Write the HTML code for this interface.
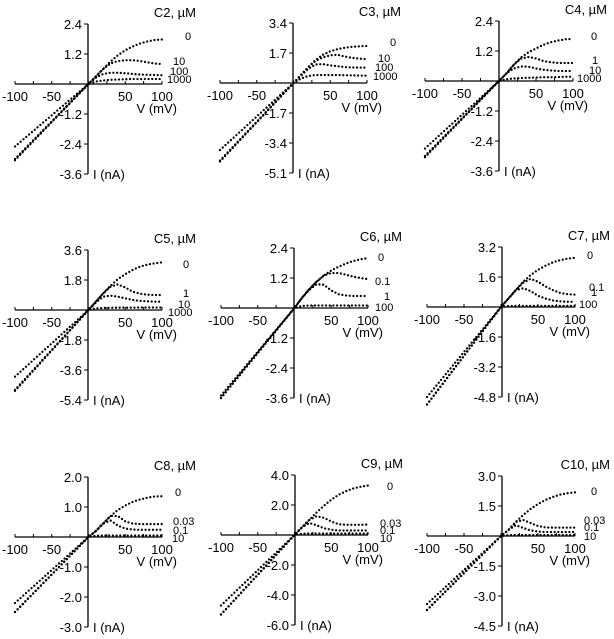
<!DOCTYPE html>
<html><head><meta charset="utf-8">
<style>
html,body{margin:0;padding:0;background:#fff;}
svg{display:block;font-family:"Liberation Sans",Arial,sans-serif;}
</style></head>
<body>
<svg id="chart" width="614" height="639" viewBox="0 0 614 639" xmlns="http://www.w3.org/2000/svg"></svg>
<script>
// Voltage categories (mV)
const voltages = [-100,-90,-80,-70,-60,-50,-40,-30,-20,-10,0,10,20,30,40,50,60,70,80,90,100];

// Panel titles and y tick labels
const titles = ["C2, µM","C3, µM","C4, µM","C5, µM","C6, µM","C7, µM","C8, µM","C9, µM","C10, µM"];
const yTickLabels = [
  ["2.4","1.2","-1.2","-2.4","-3.6"],
  ["3.4","1.7","-1.7","-3.4","-5.1"],
  ["2.4","1.2","-1.2","-2.4","-3.6"],
  ["3.6","1.8","-1.8","-3.6","-5.4"],
  ["2.4","1.2","-1.2","-2.4","-3.6"],
  ["3.2","1.6","-1.6","-3.2","-4.8"],
  ["2.0","1.0","-1.0","-2.0","-3.0"],
  ["4.0","2.0","-2.0","-4.0","-6.0"],
  ["3.0","1.5","-1.5","-3.0","-4.5"]
];
const yStep = [1.2,1.7,1.2,1.8,1.2,1.6,1.0,2.0,1.5];
const xTickLabels = ["-100","-50","50","100"];
const xTickValues = [-100,-50,50,100];
const seriesLabels = [
  ["0","10","100","1000"],
  ["0","10","100","1000"],
  ["0","1","10","1000"],
  ["0","1","10","1000"],
  ["0","0.1","1","100"],
  ["0","0.1","1","100"],
  ["0","0.03","0.1","10"],
  ["0","0.03","0.1","10"],
  ["0","0.03","0.1","10"]
];

// Current values (nA) per panel, per concentration
const c2_0    = [-2.5,-2.25,-2,-1.75,-1.5,-1.25,-1,-0.75,-0.5,-0.25,0,0.3,0.6,0.9,1.15,1.35,1.5,1.62,1.7,1.76,1.78];
const c2_10   = [-3,-2.7,-2.4,-2.1,-1.8,-1.5,-1.2,-0.9,-0.6,-0.3,0,0.3,0.6,0.82,0.92,0.95,0.95,0.92,0.87,0.82,0.8];
const c2_100  = [-3,-2.7,-2.4,-2.1,-1.8,-1.5,-1.2,-0.9,-0.6,-0.3,0,0.25,0.4,0.45,0.45,0.43,0.4,0.38,0.37,0.36,0.35];
const c2_1000 = [-3.05,-2.74,-2.44,-2.13,-1.83,-1.52,-1.22,-0.91,-0.61,-0.3,0,0.1,0.14,0.17,0.18,0.19,0.2,0.2,0.2,0.2,0.2];

const c3_0    = [-3.8,-3.42,-3.04,-2.66,-2.28,-1.9,-1.52,-1.14,-0.76,-0.38,0,0.45,0.9,1.3,1.6,1.8,1.92,2,2.05,2.08,2.1];
const c3_10   = [-4.4,-3.96,-3.52,-3.08,-2.64,-2.2,-1.76,-1.32,-0.88,-0.44,0,0.45,0.9,1.25,1.45,1.57,1.6,1.5,1.42,1.38,1.35];
const c3_100  = [-4.4,-3.96,-3.52,-3.08,-2.64,-2.2,-1.76,-1.32,-0.88,-0.44,0,0.4,0.8,1.05,1.07,1,0.95,0.9,0.88,0.87,0.87];
const c3_1000 = [-4.45,-4,-3.56,-3.11,-2.67,-2.22,-1.78,-1.33,-0.89,-0.44,0,0.25,0.4,0.45,0.45,0.45,0.45,0.44,0.43,0.42,0.42];

const c4_0    = [-2.7,-2.43,-2.16,-1.89,-1.62,-1.35,-1.08,-0.81,-0.54,-0.27,0,0.3,0.65,0.95,1.15,1.3,1.45,1.55,1.62,1.67,1.68];
const c4_1    = [-3,-2.7,-2.4,-2.1,-1.8,-1.5,-1.2,-0.9,-0.6,-0.3,0,0.3,0.65,0.9,0.96,0.9,0.8,0.75,0.72,0.72,0.72];
const c4_10   = [-3,-2.7,-2.4,-2.1,-1.8,-1.5,-1.2,-0.9,-0.6,-0.3,0,0.3,0.5,0.58,0.57,0.5,0.45,0.42,0.4,0.4,0.4];
const c4_1000 = [-3.05,-2.74,-2.44,-2.13,-1.83,-1.52,-1.22,-0.91,-0.61,-0.3,0,0.07,0.1,0.12,0.13,0.14,0.15,0.15,0.16,0.17,0.17];

const c5_0    = [-4,-3.6,-3.2,-2.8,-2.4,-2,-1.6,-1.2,-0.8,-0.4,0,0.5,1,1.45,1.85,2.15,2.4,2.6,2.72,2.8,2.86];
const c5_1    = [-4.8,-4.32,-3.84,-3.36,-2.88,-2.4,-1.92,-1.44,-0.96,-0.48,0,0.5,1,1.4,1.54,1.35,1.1,0.98,0.92,0.9,0.9];
const c5_10   = [-4.8,-4.32,-3.84,-3.36,-2.88,-2.4,-1.92,-1.44,-0.96,-0.48,0,0.45,0.8,0.86,0.8,0.7,0.6,0.55,0.52,0.5,0.5];
const c5_1000 = [-4.85,-4.37,-3.88,-3.4,-2.91,-2.43,-1.94,-1.46,-0.97,-0.49,0,0.1,0.12,0.13,0.14,0.14,0.14,0.15,0.15,0.15,0.15];

const c6_0    = [-3.5,-3.15,-2.8,-2.45,-2.1,-1.75,-1.4,-1.05,-0.7,-0.35,0,0.4,0.75,1.05,1.3,1.5,1.65,1.78,1.88,1.95,2];
const c6_01   = [-3.6,-3.24,-2.88,-2.52,-2.16,-1.8,-1.44,-1.08,-0.72,-0.36,0,0.4,0.75,1.05,1.3,1.4,1.4,1.33,1.25,1.2,1.15];
const c6_1    = [-3.6,-3.24,-2.88,-2.52,-2.16,-1.8,-1.44,-1.08,-0.72,-0.36,0,0.4,0.72,0.95,0.93,0.7,0.55,0.5,0.48,0.48,0.48];
const c6_100  = [-3.6,-3.24,-2.88,-2.52,-2.16,-1.8,-1.44,-1.08,-0.72,-0.36,0,0.08,0.1,0.1,0.1,0.1,0.1,0.1,0.1,0.1,0.1];

const c7_0    = [-4.8,-4.32,-3.84,-3.36,-2.88,-2.4,-1.92,-1.44,-0.96,-0.48,0,0.45,0.9,1.35,1.7,1.98,2.2,2.38,2.5,2.58,2.62];
const c7_01   = [-5.2,-4.68,-4.16,-3.64,-3.12,-2.6,-2.08,-1.56,-1.04,-0.52,0,0.45,0.9,1.3,1.5,1.35,1.1,0.9,0.75,0.68,0.66];
const c7_1    = [-5.2,-4.68,-4.16,-3.64,-3.12,-2.6,-2.08,-1.56,-1.04,-0.52,0,0.45,0.9,1,0.85,0.6,0.45,0.35,0.3,0.28,0.28];
const c7_100  = [-5.2,-4.68,-4.16,-3.64,-3.12,-2.6,-2.08,-1.56,-1.04,-0.52,0,0.05,0.06,0.06,0.06,0.06,0.06,0.06,0.06,0.06,0.06];

const c8_0    = [-2.2,-1.98,-1.76,-1.54,-1.32,-1.1,-0.88,-0.66,-0.44,-0.22,0,0.2,0.45,0.7,0.9,1.05,1.17,1.25,1.31,1.35,1.36];
const c8_003  = [-2.5,-2.25,-2,-1.75,-1.5,-1.25,-1,-0.75,-0.5,-0.25,0,0.2,0.45,0.7,0.7,0.52,0.45,0.43,0.43,0.43,0.43];
const c8_01   = [-2.5,-2.25,-2,-1.75,-1.5,-1.25,-1,-0.75,-0.5,-0.25,0,0.2,0.45,0.55,0.38,0.28,0.25,0.24,0.24,0.24,0.24];
const c8_10   = [-2.5,-2.25,-2,-1.75,-1.5,-1.25,-1,-0.75,-0.5,-0.25,0,0.04,0.05,0.05,0.05,0.05,0.05,0.05,0.05,0.05,0.05];

const c9_0    = [-4.7,-4.23,-3.76,-3.29,-2.82,-2.35,-1.88,-1.41,-0.94,-0.47,0,0.5,1,1.5,1.95,2.35,2.68,2.92,3.1,3.22,3.3];
const c9_003  = [-5.3,-4.77,-4.24,-3.71,-3.18,-2.65,-2.12,-1.59,-1.06,-0.53,0,0.5,1,1.25,1.15,0.9,0.72,0.68,0.68,0.68,0.7];
const c9_01   = [-5.3,-4.77,-4.24,-3.71,-3.18,-2.65,-2.12,-1.59,-1.06,-0.53,0,0.5,0.8,0.65,0.45,0.35,0.3,0.3,0.3,0.3,0.3];
const c9_10   = [-5.3,-4.77,-4.24,-3.71,-3.18,-2.65,-2.12,-1.59,-1.06,-0.53,0,0.08,0.1,0.1,0.1,0.1,0.1,0.1,0.1,0.1,0.1];

const c10_0   = [-3.4,-3.06,-2.72,-2.38,-2.04,-1.7,-1.36,-1.02,-0.68,-0.34,0,0.3,0.7,1.05,1.35,1.6,1.8,1.95,2.07,2.14,2.18];
const c10_003 = [-3.7,-3.33,-2.96,-2.59,-2.22,-1.85,-1.48,-1.11,-0.74,-0.37,0,0.3,0.7,0.8,0.65,0.5,0.43,0.42,0.42,0.42,0.42];
const c10_01  = [-3.7,-3.33,-2.96,-2.59,-2.22,-1.85,-1.48,-1.11,-0.74,-0.37,0,0.3,0.54,0.4,0.28,0.22,0.2,0.2,0.2,0.2,0.2];
const c10_10  = [-3.7,-3.33,-2.96,-2.59,-2.22,-1.85,-1.48,-1.11,-0.74,-0.37,0,0.04,0.05,0.05,0.05,0.05,0.05,0.05,0.05,0.05,0.05];

const panelSeries = [
  [c2_0,c2_10,c2_100,c2_1000],[c3_0,c3_10,c3_100,c3_1000],[c4_0,c4_1,c4_10,c4_1000],
  [c5_0,c5_1,c5_10,c5_1000],[c6_0,c6_01,c6_1,c6_100],[c7_0,c7_01,c7_1,c7_100],
  [c8_0,c8_003,c8_01,c8_10],[c9_0,c9_003,c9_01,c9_10],[c10_0,c10_003,c10_01,c10_10]
];

// Layout (pixel geometry, not data)
const geo = [
  {ax:88,x0:15,x1:162,zy:84},{ax:293,x0:220,x1:367,zy:83},{ax:499,x0:425,x1:573,zy:81},
  {ax:88,x0:15,x1:162,zy:310},{ax:294,x0:221,x1:368,zy:308},{ax:502,x0:427,x1:575,zy:307},
  {ax:88,x0:15,x1:162,zy:537},{ax:295,x0:221,x1:368,zy:535},{ax:502,x0:427,x1:575,zy:536}
];
const labelPos = [
  [[23,-47],[11,-22],[8,-12],[5,-4]],
  [[23,-40],[11,-24],[8,-15],[6,-6]],
  [[18,-44],[19,-20],[16,-10],[4,-2]],
  [[21,-45],[21,-16],[16,-5],[6,3]],
  [[10,-50],[7,-26],[16,-11],[7,0]],
  [[12,-51],[14,-19],[16,-14],[4,-2]],
  [[13,-44],[11,-15],[11,-6],[10,2]],
  [[19,-48],[12,-11],[12,-4],[12,4]],
  [[16,-44],[9,-15],[9,-8],[9,1]]
];
const INT = 30;
const NS = "http://www.w3.org/2000/svg";
const svg = document.getElementById('chart');

function mk(tag, attrs, parent, text){
  const e = document.createElementNS(NS, tag);
  for (const k in attrs) e.setAttribute(k, attrs[k]);
  if (text !== undefined) e.textContent = text;
  parent.appendChild(e);
  return e;
}

for (let p = 0; p < 9; p++) {
  const g0 = geo[p];
  const g = mk('g', {}, svg);
  
  
  const xs = v => g0.x0 + (v + 100) / 200 * (g0.x1 - g0.x0);
  const ys = i => g0.zy - i / yStep[p] * INT;
  const top = g0.zy - 2 * INT, bot = g0.zy + 3 * INT;

  // axes
  const xa = mk('line', {x1:g0.x0, y1:g0.zy, x2:g0.x1, y2:g0.zy, stroke:'#000','stroke-width':1.3}, g);
  
  
  const ya = mk('line', {x1:g0.ax, y1:top, x2:g0.ax, y2:bot, stroke:'#000','stroke-width':1.3}, g);
  
  
  for (let v = -100; v <= 100; v += 25) {
    mk('line', {x1:xs(v), y1:g0.zy, x2:xs(v), y2:g0.zy-3, stroke:'#000','stroke-width':1}, g);
  }
  const yVals = [2,1,-1,-2,-3];
  for (let k = 0; k < 5; k++) {
    const yy = g0.zy - yVals[k] * INT;
    mk('line', {x1:g0.ax-4, y1:yy, x2:g0.ax, y2:yy, stroke:'#000','stroke-width':1}, g);
    const t = mk('text', {x:g0.ax-6, y:yy+5, 'font-size':13, 'text-anchor':'end'}, g, yTickLabels[p][k]);
    
    
  }
  for (let k = 0; k < xTickValues.length; k++) {
    const t = mk('text', {x:xs(xTickValues[k]), y:g0.zy+17, 'font-size':13, 'text-anchor':'middle'}, g, xTickLabels[k]);
    
    
  }
  const xt = mk('text', {x:g0.x1+15, y:g0.zy+29, 'font-size':13, 'text-anchor':'end'}, g, 'V (mV)');
  
  
  const yt = mk('text', {x:g0.ax+5, y:bot+5, 'font-size':13}, g, 'I (nA)');
  
  
  const tt = mk('text', {x:g0.ax+108, y:g0.zy-67, 'font-size':13, 'text-anchor':'end'}, g, titles[p]);
  
  

  // series
  const ser = panelSeries[p];
  for (let s = 0; s < ser.length; s++) {
    let d = '';
    for (let i = 0; i < voltages.length; i++) {
      d += (i ? 'L' : 'M') + xs(voltages[i]).toFixed(2) + ' ' + ys(ser[s][i]).toFixed(2);
    }
    const path = mk('path', {d:d, fill:'none', stroke:'#000', 'stroke-width':2.3, 'stroke-linecap':'round', 'stroke-dasharray':'0 3.7'}, g);
    
    
    const lp = labelPos[p][s];
    const lt = mk('text', {x:g0.x1+lp[0], y:g0.zy+lp[1], 'font-size':11, 'dominant-baseline':'middle'}, g, seriesLabels[p][s]);
    
    
  }
}
</script>
</body></html>
